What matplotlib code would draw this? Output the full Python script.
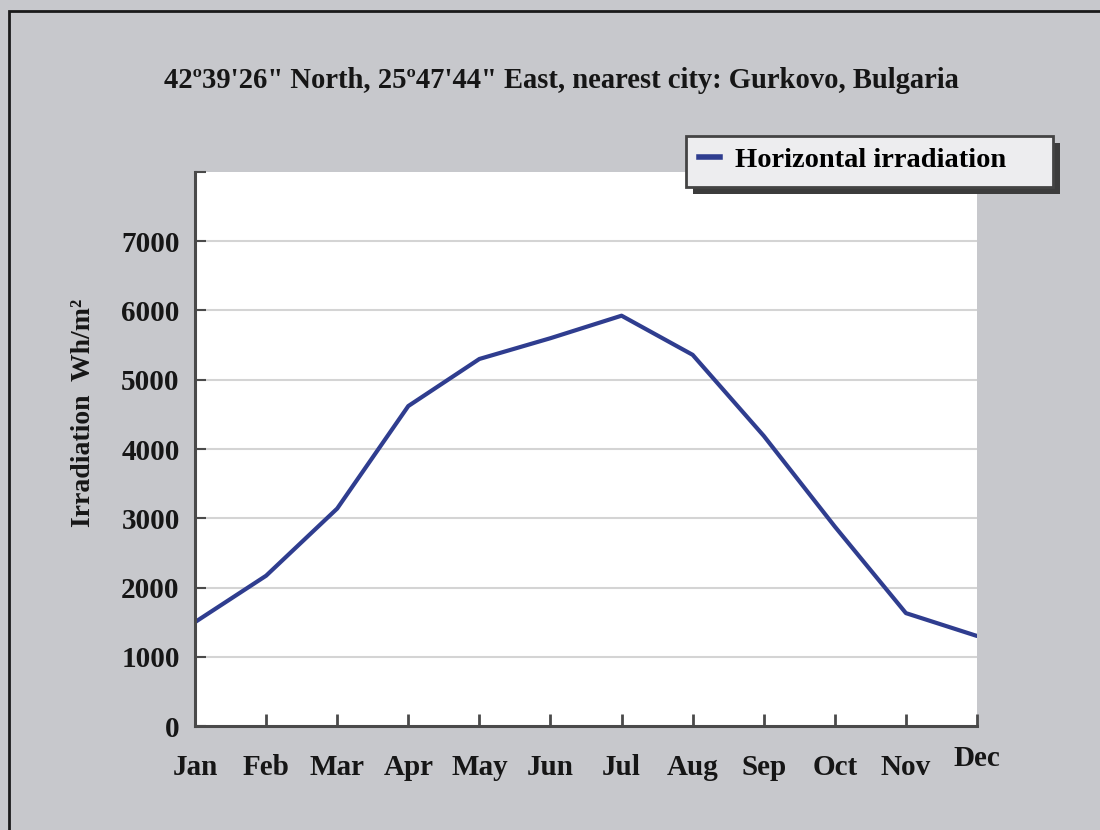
import matplotlib
matplotlib.use("Agg")
import matplotlib.pyplot as plt
from matplotlib.patches import Rectangle
from matplotlib.lines import Line2D
from matplotlib.transforms import ScaledTranslation

months = ["Jan", "Feb", "Mar", "Apr", "May", "Jun",
          "Jul", "Aug", "Sep", "Oct", "Nov", "Dec"]
irradiation = [1500, 2170, 3140, 4620, 5300, 5600,
               5925, 5360, 4190, 2880, 1630, 1300]
y_ticks = [0, 1000, 2000, 3000, 4000, 5000, 6000, 7000, 8000]
y_tick_labels = ["0", "1000", "2000", "3000", "4000", "5000", "6000", "7000", ""]

title = "42\u00ba39'26\" North, 25\u00ba47'44\" East, nearest city: Gurkovo, Bulgaria"
series_name = "Horizontal irradiation"

BG = "#c7c8cc"
LINE = "#2f3d8f"
SPINE = "#4a4a4a"
TEXT = "#161616"

plt.rcParams["font.family"] = ["Liberation Serif", "DejaVu Serif"]
plt.rcParams["font.weight"] = "bold"

W, H = 1100, 830
fig = plt.figure(figsize=(W / 100, H / 100), dpi=100)
fig.patch.set_facecolor(BG)

# outer frame (only top and left edges show)
fig.add_artist(Rectangle((9 / W, -0.1), 1.2, 1 - 11 / H + 0.1, transform=fig.transFigure,
                         fill=False, edgecolor="#1a1a1a", linewidth=2))

ax = fig.add_axes([195 / W, 1 - 726 / H, 782 / W, 554 / H])
ax.set_facecolor("white")
ax.plot(range(len(months)), irradiation, color=LINE, linewidth=3, solid_capstyle="round")

ax.set_xlim(0, len(months) - 1)
ax.set_ylim(0, 8000)
ax.set_xticks(range(len(months)))
ax.set_xticklabels(months, fontsize=21, fontweight="bold", color=TEXT)
ax.set_yticks(y_ticks)
ax.set_yticklabels(y_tick_labels, fontsize=21, fontweight="bold", color=TEXT)
ax.tick_params(axis="x", direction="in", length=9, width=2, color=SPINE, pad=20)
ax.tick_params(axis="y", direction="in", length=8, width=1.5, color=SPINE, pad=11)

# Dec sits a bit higher than the other month names
dec = ax.get_xticklabels()[-1]
dec.set_transform(dec.get_transform() + ScaledTranslation(0, 6 / 72, fig.dpi_scale_trans))

for y in y_ticks[1:-1]:
    ax.axhline(y, color="#d4d4d4", linewidth=1.5, zorder=0)

for side in ["top", "right"]:
    ax.spines[side].set_visible(False)
for side in ["left", "bottom"]:
    ax.spines[side].set_color(SPINE)
    ax.spines[side].set_linewidth(2.2)

fig.text(83 / W, 1 - 413 / H, "Irradiation  Wh/m\u00b2", rotation=90, fontsize=20,
         fontweight="bold", color=TEXT, ha="center", va="center")

fig.text(561 / W, 1 - 80 / H, title, fontsize=20.6, fontweight="bold",
         color=TEXT, ha="center", va="center")

# legend box with drop shadow
fig.add_artist(Rectangle((693 / W, 1 - 194 / H), 367 / W, 51 / H, transform=fig.transFigure,
                         facecolor="#3c3c3c", edgecolor="none", zorder=5))
fig.add_artist(Rectangle((686 / W, 1 - 187 / H), 367 / W, 51 / H, transform=fig.transFigure,
                         facecolor="#ededef", edgecolor="#444444", linewidth=2, zorder=6))
handle = Line2D([], [], color=LINE, linewidth=4)
leg = fig.legend([handle], [series_name], loc="center left",
                 bbox_to_anchor=(699 / W, 1 - 160 / H), frameon=False,
                 handlelength=0.75, handletextpad=0.53, borderpad=0, borderaxespad=0,
                 prop={"size": 20.5, "weight": "bold", "family": ["Liberation Serif"]})
leg.set_zorder(7)

fig.savefig("out.png", dpi=100, facecolor=BG)
